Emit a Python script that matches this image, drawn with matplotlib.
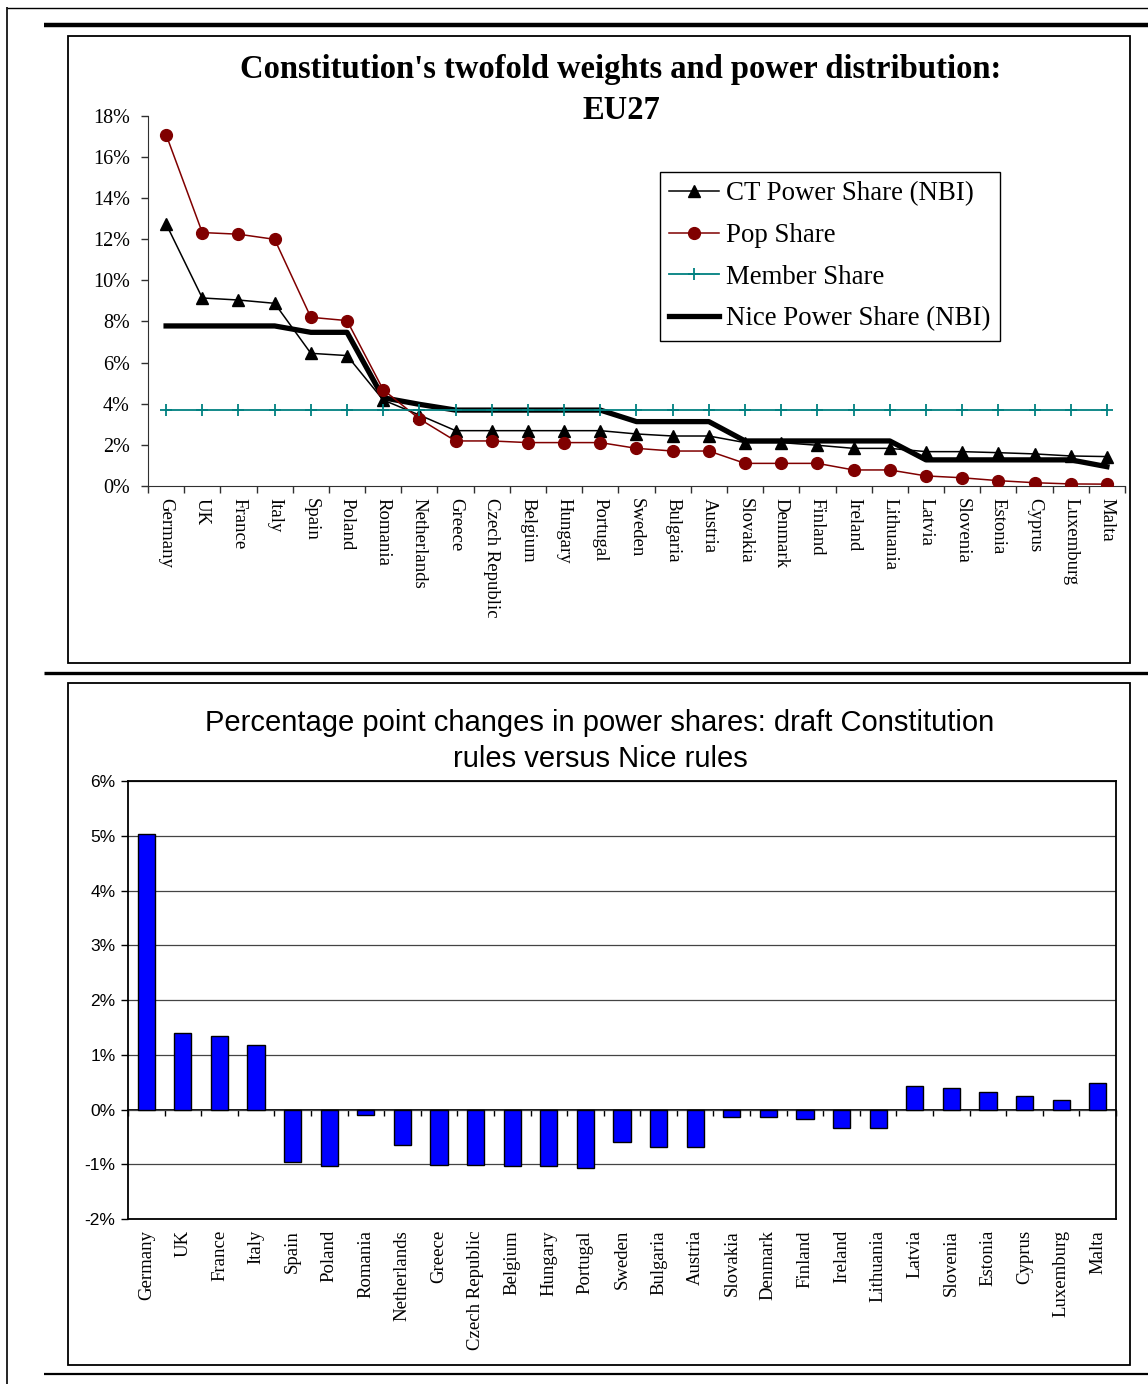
import matplotlib
matplotlib.use("Agg")
import matplotlib.pyplot as plt
from matplotlib.lines import Line2D
from matplotlib.patches import Rectangle
from matplotlib.ticker import FuncFormatter, FixedLocator

countries = ["Germany", "UK", "France", "Italy", "Spain", "Poland", "Romania",
             "Netherlands", "Greece", "Czech Republic", "Belgium", "Hungary",
             "Portugal", "Sweden", "Bulgaria", "Austria", "Slovakia", "Denmark",
             "Finland", "Ireland", "Lithuania", "Latvia", "Slovenia", "Estonia",
             "Cyprus", "Luxemburg", "Malta"]

ct_power = [12.74, 9.14, 9.04, 8.88, 6.45, 6.34, 4.18, 3.45, 2.69, 2.69, 2.69, 2.69,
            2.69, 2.53, 2.43, 2.43, 2.11, 2.11, 1.98, 1.83, 1.83, 1.67, 1.67, 1.62,
            1.56, 1.46, 1.43]
pop_share = [17.08, 12.32, 12.24, 11.99, 8.20, 8.04, 4.68, 3.26, 2.19, 2.19, 2.11, 2.11,
             2.11, 1.83, 1.70, 1.70, 1.10, 1.10, 1.10, 0.78, 0.78, 0.49, 0.40, 0.26,
             0.16, 0.10, 0.09]
member_share = [3.70] * 27
nice_power = [7.78, 7.78, 7.78, 7.78, 7.47, 7.47, 4.29, 3.97, 3.69, 3.69, 3.69, 3.69,
              3.69, 3.13, 3.13, 3.13, 2.19, 2.19, 2.19, 2.19, 2.19, 1.27, 1.27, 1.27,
              1.27, 1.27, 0.94]
change = [5.04, 1.39, 1.34, 1.17, -0.95, -1.03, -0.10, -0.64, -1.02, -1.02, -1.03, -1.03,
          -1.06, -0.60, -0.68, -0.68, -0.14, -0.14, -0.17, -0.33, -0.33, 0.43, 0.40, 0.32,
          0.24, 0.18, 0.48]

top_title = "Constitution's twofold weights and power distribution:\nEU27"
bottom_title = "Percentage point changes in power shares: draft Constitution\nrules versus Nice rules"

W, H = 1148, 1384
fig = plt.figure(figsize=(W / 100, H / 100), dpi=100)
fig.patch.set_facecolor("white")

SERIF = ["Liberation Serif", "DejaVu Serif"]
SANS = ["Liberation Sans", "DejaVu Sans"]


def fx(x):
    return x / W


def fy(y):
    return 1 - y / H


def axes_px(l, t, r, b):
    return [fx(l), fy(b), (r - l) / W, (b - t) / H]


def hline(x0, x1, y, lw, color="black"):
    fig.add_artist(Line2D([fx(x0), fx(x1)], [fy(y), fy(y)], lw=lw, color=color,
                          transform=fig.transFigure, solid_capstyle="butt"))


def vline(x, y0, y1, lw, color="black"):
    fig.add_artist(Line2D([fx(x), fx(x)], [fy(y0), fy(y1)], lw=lw, color=color,
                          transform=fig.transFigure, solid_capstyle="butt"))


def box(l, t, r, b, lw=1.2):
    fig.add_artist(Rectangle((fx(l), fy(b)), (r - l) / W, (b - t) / H, fill=False,
                             edgecolor="black", lw=lw, transform=fig.transFigure))


# page decorations
vline(7, 7, H, 1.2)
hline(7, W, 8, 1.0)
hline(44, W, 25, 3.2)
box(68, 36, 1130, 663, 1.3)
hline(44, W, 673, 2.4)
box(68, 683, 1130, 1365, 1.3)
hline(44, W, 1374, 1.6)

n = len(countries)
xs = list(range(n))

# ---------- top chart ----------
ax1 = fig.add_axes(axes_px(148, 115.7, 1125, 486))
ax1.set_facecolor("none")
ax1.plot(xs, nice_power, color="black", lw=3.8, zorder=2, solid_joinstyle="round",
         label="Nice Power Share (NBI)")
ax1.plot(xs, ct_power, color="black", lw=1.1, marker="^", ms=8.5, zorder=3,
         label="CT Power Share (NBI)")
ax1.plot(xs, pop_share, color="#800000", lw=1.1, marker="o", ms=8.5, zorder=4,
         label="Pop Share")
ax1.plot(xs, member_share, color="#008080", lw=1.3, marker="+", ms=9, mew=1.3, zorder=5,
         label="Member Share")
ax1.set_xlim(-0.5, n - 0.5)
ax1.set_ylim(0, 18)
for s in ["top", "right"]:
    ax1.spines[s].set_visible(False)
ax1.spines["left"].set_color("#303030")
ax1.spines["bottom"].set_color("#303030")
ax1.set_yticks(range(0, 19, 2))
ax1.yaxis.set_major_formatter(FuncFormatter(lambda v, p: f"{int(round(v))}%"))
ax1.tick_params(axis="y", direction="out", length=5, width=1, pad=8, labelsize=14.5,
                color="#303030")
for lab in ax1.get_yticklabels():
    lab.set_family(SERIF)
ax1.set_xticks(xs)
ax1.set_xticklabels(countries, rotation=270, family=SERIF, fontsize=13.5, va="top",
                    ha="center")
ax1.tick_params(axis="x", which="major", length=0, pad=9)
ax1.xaxis.set_minor_locator(FixedLocator([i - 0.5 for i in range(n + 1)]))
ax1.tick_params(axis="x", which="minor", direction="out", length=5, width=1, color="#303030")

fig.text(fx(621), fy(90), top_title, ha="center", va="center", family=SERIF,
         fontweight="bold", fontsize=23.5, linespacing=1.42)

handles, labels = ax1.get_legend_handles_labels()
order = [1, 2, 3, 0]
leg = ax1.legend([handles[i] for i in order], [labels[i] for i in order],
                 loc="upper left", bbox_to_anchor=(fx(660), fy(172)),
                 bbox_transform=fig.transFigure, borderaxespad=0, frameon=True,
                 fancybox=False, edgecolor="black", framealpha=1,
                 prop={"family": SERIF, "size": 19.4}, handlelength=1.85,
                 handletextpad=0.25, labelspacing=0.62, borderpad=0.35)
leg.get_frame().set_linewidth(1.0)

# ---------- bottom chart ----------
ax2 = fig.add_axes(axes_px(128, 781, 1116, 1219))
ax2.bar(xs, change, width=0.47, color="#0000FF", edgecolor="black", lw=1.0, zorder=3)
ax2.set_xlim(-0.5, n - 0.5)
ax2.set_ylim(-2, 6)
ax2.set_yticks(range(-2, 7))
ax2.yaxis.set_major_formatter(FuncFormatter(lambda v, p: f"{int(round(v))}%"))
ax2.yaxis.grid(True, color="#444444", lw=0.9, zorder=0)
ax2.set_axisbelow(True)
for s in ax2.spines.values():
    s.set_linewidth(1.3)
    s.set_color("black")
ax2.tick_params(axis="y", direction="out", length=5, width=1, pad=4, labelsize=12.5)
for lab in ax2.get_yticklabels():
    lab.set_family(SANS)
ax2.set_xticks(xs)
ax2.set_xticklabels(countries, rotation=90, family=SERIF, fontsize=13.5, va="top",
                    ha="center")
ax2.tick_params(axis="x", which="major", length=0, pad=8)

zero_axis = ax2.secondary_xaxis(0.25)
zero_axis.spines["bottom"].set_linewidth(1.3)
zero_axis.set_xticks([i - 0.5 for i in range(n + 1)])
zero_axis.tick_params(axis="x", direction="out", length=4, width=1, labelbottom=False)

fig.text(fx(600), fy(741), bottom_title, ha="center", va="center", family=SANS,
         fontsize=21, linespacing=1.39)

fig.savefig("out.png", dpi=100, facecolor="white")
